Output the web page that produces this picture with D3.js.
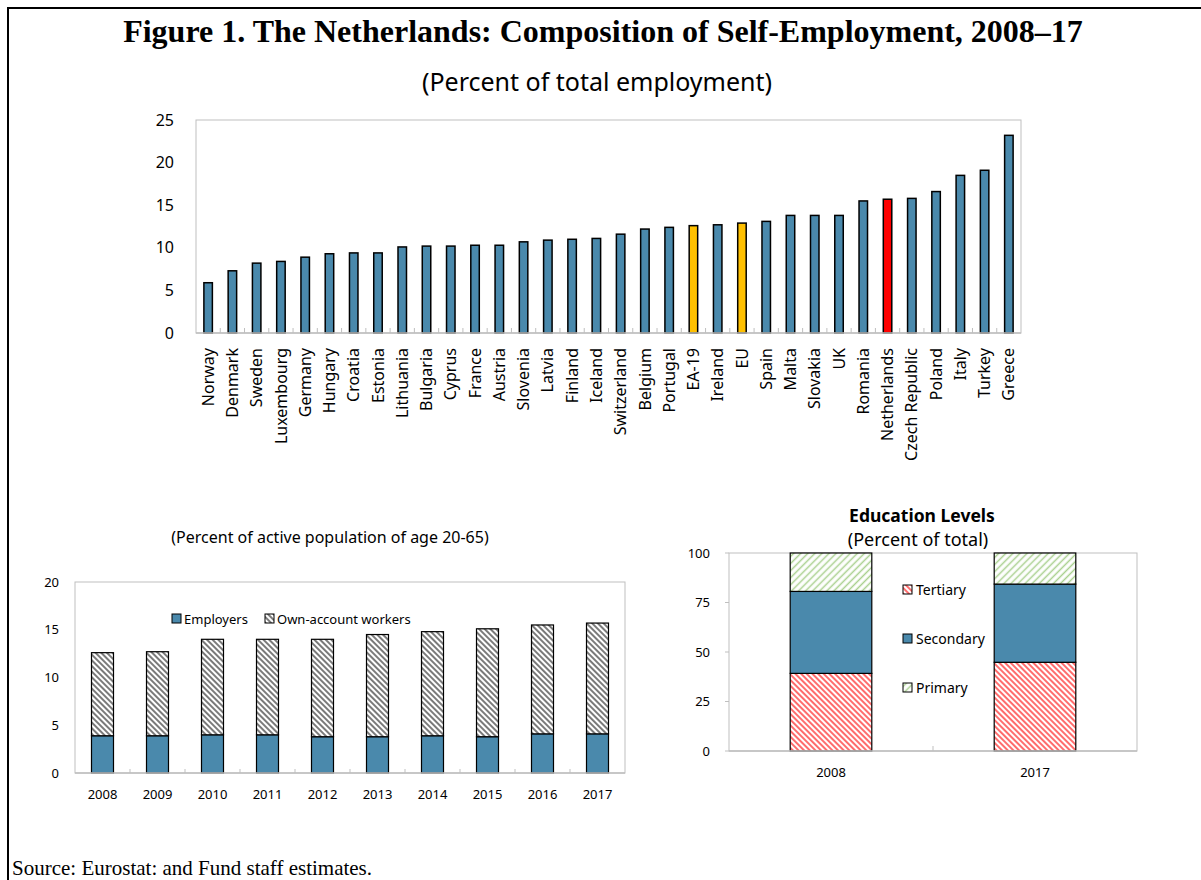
<!DOCTYPE html>
<html>
<head>
<meta charset="utf-8">
<script src="https://cdn.jsdelivr.net/npm/d3@7"></script>
<style>
    body { margin: 0; background: #fff; }
    svg { display: block; }
    text { font-family: "Noto Sans", sans-serif; fill: #000; }
</style>
</head>
<body>
<script>
//
// DATA: TOP PANEL (percent of total employment)
const countries = [ 'Norway', 'Denmark', 'Sweden', 'Luxembourg', 'Germany', 'Hungary', 'Croatia', 'Estonia',
    'Lithuania', 'Bulgaria', 'Cyprus', 'France', 'Austria', 'Slovenia', 'Latvia', 'Finland', 'Iceland',
    'Switzerland', 'Belgium', 'Portugal', 'EA-19', 'Ireland', 'EU', 'Spain', 'Malta', 'Slovakia', 'UK',
    'Romania', 'Netherlands', 'Czech Republic', 'Poland', 'Italy', 'Turkey', 'Greece' ];
const selfEmp = [ 5.9, 7.3, 8.2, 8.4, 8.9, 9.3, 9.4, 9.4,
    10.1, 10.2, 10.2, 10.3, 10.3, 10.7, 10.9, 11.0, 11.1,
    11.6, 12.2, 12.4, 12.6, 12.7, 12.9, 13.1, 13.8, 13.8, 13.8,
    15.5, 15.7, 15.8, 16.6, 18.5, 19.1, 23.2 ];
const aggregates = [ 'EA-19', 'EU' ];
const focusCountry = 'Netherlands';
const topTicks = [ 0, 5, 10, 15, 20, 25 ];
//
// DATA: BOTTOM LEFT (percent of active population of age 20-65)
const years = [ '2008', '2009', '2010', '2011', '2012', '2013', '2014', '2015', '2016', '2017' ];
const employers = [ 3.9, 3.9, 4.0, 4.0, 3.8, 3.8, 3.9, 3.8, 4.1, 4.1 ];
const ownAccount = [ 8.7, 8.8, 10.0, 10.0, 10.2, 10.7, 10.9, 11.3, 11.4, 11.6 ];
const leftTicks = [ 0, 5, 10, 15, 20 ];
//
// DATA: BOTTOM RIGHT (education levels, percent of total)
const eduYears = [ '2008', '2017' ];
const tertiary = [ 39.2, 44.8 ];
const secondary = [ 41.4, 39.5 ];
const primary = [ 19.4, 15.7 ];
const rightTicks = [ 0, 25, 50, 75, 100 ];

window.addEventListener( 'load', function () {
    const WIDTH = 1201;
    const HEIGHT = 880;
    const BLUE = '#4a89ac';
    const YELLOW = '#ffc000';
    const RED = '#ff0000';
    const BOX = '#bfbfbf';

    let svg = d3.select( 'body' ).append( 'svg' )
        .attr( 'width', WIDTH )
        .attr( 'height', HEIGHT );
    //
    // SET HATCH PATTERNS
    let defs = svg.append( 'defs' );
    function hatch( id, color, step, lineWidth, angle ) {
        let p = defs.append( 'pattern' )
            .attr( 'id', id )
            .attr( 'patternUnits', 'userSpaceOnUse' )
            .attr( 'width', step )
            .attr( 'height', step )
            .attr( 'patternTransform', 'rotate(' + angle + ')' );
        p.append( 'rect' ).attr( 'width', step ).attr( 'height', step ).attr( 'fill', '#fff' );
        p.append( 'line' )
            .attr( 'x1', step / 2 ).attr( 'x2', step / 2 )
            .attr( 'y1', 0 ).attr( 'y2', step )
            .attr( 'stroke', color )
            .attr( 'stroke-width', lineWidth );
    }
    hatch( 'hatchOwn', '#333', 4, 1.3, -45 );
    hatch( 'hatchTert', '#ff3c3c', 4, 1.5, -45 );
    hatch( 'hatchPrim', '#a9d08e', 5, 1.5, 45 );
    //
    // SET FRAME
    svg.append( 'path' )
        .attr( 'd', 'M8,' + HEIGHT + 'V8H' + WIDTH )
        .attr( 'fill', 'none' )
        .attr( 'stroke', '#000' )
        .attr( 'stroke-width', 2 );
    //
    // SET TITLES
    svg.append( 'text' )
        .attr( 'x', 603 ).attr( 'y', 42 )
        .attr( 'text-anchor', 'middle' )
        .style( 'font-family', '"Liberation Serif", serif' )
        .style( 'font-weight', 'bold' )
        .style( 'font-size', '32px' )
        .text( 'Figure 1. The Netherlands: Composition of Self-Employment, 2008–17' );
    svg.append( 'text' )
        .attr( 'x', 597 ).attr( 'y', 91 )
        .attr( 'text-anchor', 'middle' )
        .style( 'font-size', '25px' )
        .text( '(Percent of total employment)' );
    svg.append( 'text' )
        .attr( 'x', 12 ).attr( 'y', 875 )
        .style( 'font-family', '"Liberation Serif", serif' )
        .style( 'font-size', '21px' )
        .text( 'Source: Eurostat: and Fund staff estimates.' );
    //
    // TOP PANEL
    const T = { left: 196, right: 1021, top: 120, bottom: 333 };
    let xTop = d3.scaleBand().domain( countries ).range( [ T.left, T.right ] )
        .paddingInner( 0.65 ).paddingOuter( 0.325 );
    let yTop = d3.scaleLinear().domain( [ 0, 25 ] ).range( [ T.bottom, T.top ] );
    let gTop = svg.append( 'g' );
    gTop.append( 'rect' )
        .attr( 'x', T.left ).attr( 'y', T.top )
        .attr( 'width', T.right - T.left ).attr( 'height', T.bottom - T.top )
        .attr( 'fill', 'none' ).attr( 'stroke', BOX );
    gTop.selectAll( 'line.tick' )
        .data( d3.range( 1, countries.length ) )
        .enter().append( 'line' )
        .attr( 'x1', function ( i ) { return T.left + i * xTop.step(); } )
        .attr( 'x2', function ( i ) { return T.left + i * xTop.step(); } )
        .attr( 'y1', T.bottom ).attr( 'y2', T.bottom - 5 )
        .attr( 'stroke', BOX );
    gTop.selectAll( 'rect.bar' )
        .data( countries )
        .enter().append( 'rect' )
        .attr( 'x', function ( d ) { return xTop( d ); } )
        .attr( 'y', function ( d, i ) { return yTop( selfEmp[ i ] ); } )
        .attr( 'width', xTop.bandwidth() )
        .attr( 'height', function ( d, i ) { return T.bottom - yTop( selfEmp[ i ] ); } )
        .attr( 'fill', function ( d ) {
            if ( d === focusCountry ) return RED;
            return aggregates.indexOf( d ) >= 0 ? YELLOW : BLUE;
        })
        .attr( 'stroke', '#000' )
        .attr( 'stroke-width', 1.5 );
    gTop.append( 'line' )
        .attr( 'x1', T.left ).attr( 'x2', T.right )
        .attr( 'y1', T.bottom ).attr( 'y2', T.bottom )
        .attr( 'stroke', BOX ).attr( 'stroke-width', 1.5 );
    gTop.append( 'g' )
        .attr( 'transform', 'translate(' + ( T.left - 19 ) + ',0)' )
        .call( d3.axisLeft( yTop ).tickValues( topTicks ).tickSize( 0 ) )
        .call( function ( g ) { g.select( '.domain' ).remove(); } )
        .selectAll( 'text' )
        .style( 'font-family', '"Noto Sans", sans-serif' )
        .style( 'font-size', '16px' )
        .attr( 'fill', '#000' );
    gTop.selectAll( 'text.xlab' )
        .data( countries )
        .enter().append( 'text' )
        .attr( 'transform', function ( d ) {
            return 'translate(' + ( xTop( d ) + xTop.bandwidth() / 2 ) + ',' + ( T.bottom + 15 ) + ') rotate(-90)';
        })
        .attr( 'text-anchor', 'end' )
        .attr( 'dy', '0.35em' )
        .style( 'font-size', '16px' )
        .text( function ( d ) { return d; } );
    //
    // BOTTOM LEFT PANEL
    const L = { left: 75, right: 625, top: 582, bottom: 773 };
    let xLeft = d3.scaleBand().domain( years ).range( [ L.left, L.right ] )
        .paddingInner( 0.6 ).paddingOuter( 0.3 );
    let yLeft = d3.scaleLinear().domain( [ 0, 20 ] ).range( [ L.bottom, L.top ] );
    let leftTable = years.map( function ( y, i ) {
        return { year: y, employers: employers[ i ], own: ownAccount[ i ] };
    });
    let leftStack = d3.stack().keys( [ 'employers', 'own' ] )( leftTable );
    let gLeft = svg.append( 'g' );
    svg.append( 'text' )
        .attr( 'x', 330 ).attr( 'y', 543 )
        .attr( 'text-anchor', 'middle' )
        .style( 'font-size', '16px' )
        .text( '(Percent of active population of age 20-65)' );
    gLeft.append( 'rect' )
        .attr( 'x', L.left ).attr( 'y', L.top )
        .attr( 'width', L.right - L.left ).attr( 'height', L.bottom - L.top )
        .attr( 'fill', 'none' ).attr( 'stroke', BOX );
    gLeft.selectAll( 'line.tick' )
        .data( d3.range( 1, years.length ) )
        .enter().append( 'line' )
        .attr( 'x1', function ( i ) { return L.left + i * xLeft.step(); } )
        .attr( 'x2', function ( i ) { return L.left + i * xLeft.step(); } )
        .attr( 'y1', L.bottom ).attr( 'y2', L.bottom - 4 )
        .attr( 'stroke', BOX );
    gLeft.selectAll( 'g.layer' )
        .data( leftStack )
        .enter().append( 'g' )
        .attr( 'fill', function ( d ) { return d.key === 'employers' ? BLUE : 'url(#hatchOwn)'; } )
        .selectAll( 'rect' )
        .data( function ( d ) { return d; } )
        .enter().append( 'rect' )
        .attr( 'x', function ( d ) { return xLeft( d.data.year ); } )
        .attr( 'y', function ( d ) { return yLeft( d[ 1 ] ); } )
        .attr( 'width', xLeft.bandwidth() )
        .attr( 'height', function ( d ) { return yLeft( d[ 0 ] ) - yLeft( d[ 1 ] ); } )
        .attr( 'stroke', '#000' )
        .attr( 'stroke-width', 1.2 );
    gLeft.append( 'line' )
        .attr( 'x1', L.left ).attr( 'x2', L.right )
        .attr( 'y1', L.bottom ).attr( 'y2', L.bottom )
        .attr( 'stroke', BOX ).attr( 'stroke-width', 1.5 );
    gLeft.append( 'g' )
        .attr( 'transform', 'translate(' + ( L.left - 13 ) + ',0)' )
        .call( d3.axisLeft( yLeft ).tickValues( leftTicks ).tickSize( 0 ) )
        .call( function ( g ) { g.select( '.domain' ).remove(); } )
        .selectAll( 'text' )
        .style( 'font-family', '"Noto Sans", sans-serif' )
        .style( 'font-size', '13px' )
        .attr( 'fill', '#000' );
    gLeft.append( 'g' )
        .attr( 'transform', 'translate(0,' + ( L.bottom + 14 ) + ')' )
        .call( d3.axisBottom( xLeft ).tickSize( 0 ) )
        .call( function ( g ) { g.select( '.domain' ).remove(); } )
        .selectAll( 'text' )
        .style( 'font-family', '"Noto Sans", sans-serif' )
        .style( 'font-size', '13px' )
        .attr( 'fill', '#000' );
    //
    // LEGEND BOTTOM LEFT
    const legendLeft = [ { name: 'Employers', fill: BLUE, x: 172 }, { name: 'Own-account workers', fill: 'url(#hatchOwn)', x: 265 } ];
    let lg = gLeft.selectAll( 'g.legend' )
        .data( legendLeft )
        .enter().append( 'g' )
        .attr( 'transform', function ( d ) { return 'translate(' + d.x + ',614)'; } );
    lg.append( 'rect' )
        .attr( 'width', 9 ).attr( 'height', 9 )
        .attr( 'fill', function ( d ) { return d.fill; } )
        .attr( 'stroke', '#000' ).attr( 'stroke-width', 1 );
    lg.append( 'text' )
        .attr( 'x', 12 ).attr( 'y', 5 )
        .attr( 'dy', '0.35em' )
        .style( 'font-size', '13px' )
        .text( function ( d ) { return d.name; } );
    //
    // BOTTOM RIGHT PANEL
    const R = { left: 729, right: 1137, top: 553, bottom: 751 };
    let xRight = d3.scaleBand().domain( eduYears ).range( [ R.left, R.right ] )
        .paddingInner( 0.6 ).paddingOuter( 0.3 );
    let yRight = d3.scaleLinear().domain( [ 0, 100 ] ).range( [ R.bottom, R.top ] );
    let rightTable = eduYears.map( function ( y, i ) {
        return { year: y, tertiary: tertiary[ i ], secondary: secondary[ i ], primary: primary[ i ] };
    });
    let rightStack = d3.stack().keys( [ 'tertiary', 'secondary', 'primary' ] )( rightTable );
    const eduFill = { tertiary: 'url(#hatchTert)', secondary: BLUE, primary: 'url(#hatchPrim)' };
    let gRight = svg.append( 'g' );
    svg.append( 'text' )
        .attr( 'x', 922 ).attr( 'y', 522 )
        .attr( 'text-anchor', 'middle' )
        .style( 'font-size', '17.5px' )
        .style( 'font-weight', 'bold' )
        .text( 'Education Levels' );
    svg.append( 'text' )
        .attr( 'x', 918 ).attr( 'y', 546 )
        .attr( 'text-anchor', 'middle' )
        .style( 'font-size', '18px' )
        .text( '(Percent of total)' );
    gRight.append( 'rect' )
        .attr( 'x', R.left ).attr( 'y', R.top )
        .attr( 'width', R.right - R.left ).attr( 'height', R.bottom - R.top )
        .attr( 'fill', 'none' ).attr( 'stroke', BOX );
    gRight.append( 'line' )
        .attr( 'x1', R.left + xRight.step() ).attr( 'x2', R.left + xRight.step() )
        .attr( 'y1', R.bottom ).attr( 'y2', R.bottom - 5 )
        .attr( 'stroke', BOX );
    gRight.selectAll( 'line.ytick' )
        .data( rightTicks )
        .enter().append( 'line' )
        .attr( 'x1', R.left - 4 ).attr( 'x2', R.left )
        .attr( 'y1', function ( d ) { return yRight( d ); } )
        .attr( 'y2', function ( d ) { return yRight( d ); } )
        .attr( 'stroke', BOX );
    gRight.selectAll( 'g.layer' )
        .data( rightStack )
        .enter().append( 'g' )
        .attr( 'fill', function ( d ) { return eduFill[ d.key ]; } )
        .selectAll( 'rect' )
        .data( function ( d ) { return d; } )
        .enter().append( 'rect' )
        .attr( 'x', function ( d ) { return xRight( d.data.year ); } )
        .attr( 'y', function ( d ) { return yRight( d[ 1 ] ); } )
        .attr( 'width', xRight.bandwidth() )
        .attr( 'height', function ( d ) { return yRight( d[ 0 ] ) - yRight( d[ 1 ] ); } )
        .attr( 'stroke', '#000' )
        .attr( 'stroke-width', 1.2 );
    gRight.append( 'line' )
        .attr( 'x1', R.left ).attr( 'x2', R.right )
        .attr( 'y1', R.bottom ).attr( 'y2', R.bottom )
        .attr( 'stroke', BOX ).attr( 'stroke-width', 1.5 );
    gRight.append( 'g' )
        .attr( 'transform', 'translate(' + ( R.left - 16 ) + ',0)' )
        .call( d3.axisLeft( yRight ).tickValues( rightTicks ).tickSize( 0 ) )
        .call( function ( g ) { g.select( '.domain' ).remove(); } )
        .selectAll( 'text' )
        .style( 'font-family', '"Noto Sans", sans-serif' )
        .style( 'font-size', '13px' )
        .attr( 'fill', '#000' );
    gRight.append( 'g' )
        .attr( 'transform', 'translate(0,' + ( R.bottom + 14 ) + ')' )
        .call( d3.axisBottom( xRight ).tickSize( 0 ) )
        .call( function ( g ) { g.select( '.domain' ).remove(); } )
        .selectAll( 'text' )
        .style( 'font-family', '"Noto Sans", sans-serif' )
        .style( 'font-size', '13px' )
        .attr( 'fill', '#000' );
    //
    // LEGEND BOTTOM RIGHT
    const legendRight = [ { name: 'Tertiary', key: 'tertiary' }, { name: 'Secondary', key: 'secondary' }, { name: 'Primary', key: 'primary' } ];
    let rg = gRight.selectAll( 'g.legend' )
        .data( legendRight )
        .enter().append( 'g' )
        .attr( 'transform', function ( d, i ) { return 'translate(903,' + ( 585 + i * 49 ) + ')'; } );
    rg.append( 'rect' )
        .attr( 'width', 9 ).attr( 'height', 9 )
        .attr( 'fill', function ( d ) { return eduFill[ d.key ]; } )
        .attr( 'stroke', '#000' ).attr( 'stroke-width', 1 );
    rg.append( 'text' )
        .attr( 'x', 13 ).attr( 'y', 5 )
        .attr( 'dy', '0.35em' )
        .style( 'font-size', '14px' )
        .text( function ( d ) { return d.name; } );
}, false );
</script>
</body>
</html>
